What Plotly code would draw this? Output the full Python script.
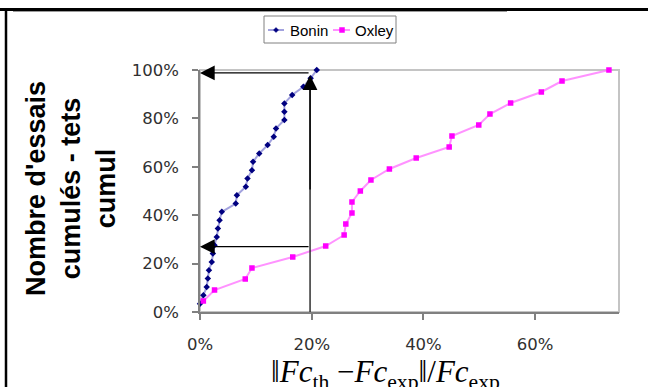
import plotly.graph_objects as go

# ---------------- data ----------------
bonin_x = [0.000, 0.006, 0.012, 0.014, 0.016, 0.021, 0.023, 0.026, 0.030, 0.032,
           0.035, 0.039, 0.064, 0.066, 0.082, 0.085, 0.093, 0.095, 0.106, 0.121,
           0.132, 0.136, 0.151, 0.151, 0.151, 0.165, 0.185, 0.198, 0.209]
bonin_y = [k / 29 for k in range(1, 30)]

oxley_x = [0.006, 0.026, 0.081, 0.093, 0.166, 0.225, 0.258, 0.261, 0.272, 0.272,
           0.287, 0.306, 0.339, 0.387, 0.446, 0.451, 0.499, 0.519, 0.556, 0.611,
           0.648, 0.732]
oxley_y = [k / 22 for k in range(1, 23)]

x_ticks = [0, 0.2, 0.4, 0.6]
y_ticks = [0, 0.2, 0.4, 0.6, 0.8, 1.0]
y_title = "Nombre d'essais<br>cumulés - tets<br>cumul"
x_title = ("‖<i>Fc</i><sub>th</sub> −<i>Fc</i><sub>exp</sub>‖"
           "/<i>Fc</i><sub>exp</sub>")
series_names = ["Bonin", "Oxley"]

# ---------------- layout geometry ----------------
W, H = 648, 387
L, R, T, B = 200, 619, 70, 312


def px(x):
    return (x - L) / (R - L)


def py(y):
    return (B - y) / (B - T)


BONIN_LINE = "rgba(100,100,200,0.6)"
OXLEY_LINE = "rgba(255,110,255,0.75)"

fig = go.Figure()
fig.add_trace(go.Scatter(
    x=bonin_x, y=bonin_y, mode="lines+markers", name=series_names[0],
    line=dict(color=BONIN_LINE, width=2),
    marker=dict(color="#000080", size=5, symbol="diamond"),
    showlegend=False, cliponaxis=False))
fig.add_trace(go.Scatter(
    x=oxley_x, y=oxley_y, mode="lines+markers", name=series_names[1],
    line=dict(color=OXLEY_LINE, width=2),
    marker=dict(color="#ff00ff", size=5.5, symbol="square"),
    showlegend=False, cliponaxis=False))

shapes = []
# plot-area border (light grey)
shapes.append(dict(type="rect", xref="paper", yref="paper", x0=0, x1=1, y0=0, y1=1,
                   line=dict(color="#c4c4c4", width=2), layer="below"))
# outer page frame
shapes.append(dict(type="line", xref="paper", yref="paper",
                   x0=px(0), x1=px(W), y0=py(9.5), y1=py(9.5),
                   line=dict(color="black", width=3)))
shapes.append(dict(type="line", xref="paper", yref="paper",
                   x0=px(6), x1=px(6), y0=py(9), y1=py(H + 2),
                   line=dict(color="black", width=2.5)))
shapes.append(dict(type="line", xref="paper", yref="paper",
                   x0=px(13), x1=px(507), y0=py(11.5), y1=py(11.5),
                   line=dict(color="#9a9a9a", width=1)))
# vertical guide line at 20%
shapes.append(dict(type="line", xref="x", yref="y",
                   x0=0.197, x1=0.197, y0=0, y1=0.95,
                   line=dict(color="#303030", width=1.5)))

# custom legend
shapes.append(dict(type="rect", xref="paper", yref="paper",
                   x0=px(264), x1=px(396), y0=py(16), y1=py(43),
                   line=dict(color="#808080", width=1), fillcolor="white"))
shapes.append(dict(type="line", xref="paper", yref="paper",
                   x0=px(268), x1=px(284), y0=py(30), y1=py(30),
                   line=dict(color=BONIN_LINE, width=2)))
shapes.append(dict(type="path", xref="paper", yref="paper",
                   path=f"M {px(276)} {py(27.5)} L {px(278.5)} {py(30)} L {px(276)} {py(32.5)} L {px(273.5)} {py(30)} Z",
                   line=dict(color="#000080", width=0.5), fillcolor="#000080"))
shapes.append(dict(type="line", xref="paper", yref="paper",
                   x0=px(333), x1=px(350), y0=py(30), y1=py(30),
                   line=dict(color=OXLEY_LINE, width=2)))
shapes.append(dict(type="rect", xref="paper", yref="paper",
                   x0=px(339.5), x1=px(344.5), y0=py(27.5), y1=py(32.5),
                   line=dict(color="#ff00ff", width=0.5), fillcolor="#ff00ff"))

annotations = []
annotations.append(dict(xref="paper", yref="paper", x=px(288), y=py(30),
                        xanchor="left", yanchor="middle", text=series_names[0],
                        showarrow=False,
                        font=dict(family="Liberation Sans", size=15, color="black")))
annotations.append(dict(xref="paper", yref="paper", x=px(353), y=py(30),
                        xanchor="left", yanchor="middle", text=series_names[1],
                        showarrow=False,
                        font=dict(family="Liberation Sans", size=15, color="black")))

arrow_style = dict(showarrow=True, arrowhead=2, arrowsize=2.1, arrowwidth=1.4,
                   arrowcolor="black", standoff=0, startstandoff=0, text="",
                   xref="x", yref="y", axref="x", ayref="y")
annotations.append(dict(x=0.197, y=0.978, ax=0.197, ay=0.5, **arrow_style))
annotations.append(dict(x=0.0, y=0.988, ax=0.197, ay=0.988, **arrow_style))
annotations.append(dict(x=0.0, y=0.27, ax=0.197, ay=0.27, **arrow_style))

# axis titles
annotations.append(dict(xref="paper", yref="paper", x=px(71), y=py(189),
                        xanchor="center", yanchor="middle", textangle=-90,
                        text=y_title, showarrow=False,
                        font=dict(family="Liberation Sans", size=27, color="black",
                                  weight="bold")))
annotations.append(dict(xref="paper", yref="paper", x=px(385), y=py(352),
                        xanchor="center", yanchor="top", text=x_title,
                        showarrow=False,
                        font=dict(family="Liberation Serif", size=31, color="black")))

fig.update_layout(
    width=W, height=H,
    margin=dict(l=L, r=W - R, t=T, b=H - B, pad=0),
    paper_bgcolor="white", plot_bgcolor="white",
    shapes=shapes, annotations=annotations,
    showlegend=False,
    xaxis=dict(range=[0, 0.75], tickvals=x_ticks, tickformat=".0%",
               ticks="outside", ticklen=6, tickcolor="#808080", tickwidth=1.5,
               showline=True, linecolor="#808080", linewidth=1.5,
               showgrid=False, zeroline=False, ticklabelstandoff=10,
               tickfont=dict(family="DejaVu Sans", size=16.5, color="#303030")),
    yaxis=dict(range=[0, 1], tickvals=y_ticks, tickformat=".0%",
               ticks="outside", ticklen=6, tickcolor="#808080", tickwidth=1.5,
               showline=True, linecolor="#808080", linewidth=1.5,
               showgrid=False, zeroline=False, ticklabelstandoff=10,
               tickfont=dict(family="DejaVu Sans", size=16.5, color="#303030")),
)

fig.write_html("out.html",
               config={"displayModeBar": False},
               post_script="document.body.style.margin='0';"
                           "document.body.style.overflow='hidden';")
